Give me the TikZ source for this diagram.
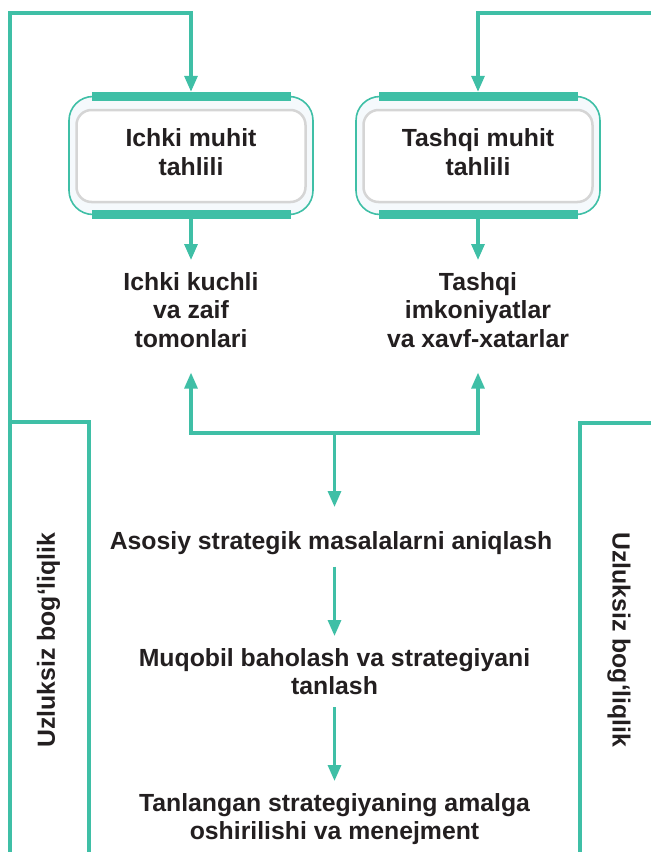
\documentclass[tikz,border=0pt]{standalone}
\usepackage{fontspec}
\setmainfont{Liberation Sans}
\usetikzlibrary{arrows.meta}

\definecolor{flowteal}{HTML}{3FBFA6}
\definecolor{ink}{HTML}{231F20}
\definecolor{boxfill}{HTML}{F5F9FC}
\definecolor{boxgray}{HTML}{D5D5D5}

\begin{document}
\begin{tikzpicture}[
  x=1pt, y=-1pt,
  flow/.style={draw=flowteal, line width=3.2pt},
  tip/.tip={Triangle[width=13pt,length=16pt]},
  arr/.style={flow, -tip},
  txt/.style={font=\fontsize{24.8}{28.5}\selectfont\bfseries, text=ink,
              align=center, inner xsep=0pt, inner ysep=12pt, anchor=north},
  sidetxt/.style={font=\fontsize{24.8}{28.5}\selectfont\bfseries, text=ink,
              inner sep=0pt},
  outerbox/.style={draw=flowteal, line width=1.6pt, fill=boxfill,
              rounded corners=24pt, minimum width=244pt, minimum height=118pt,
              inner sep=0pt},
  innerbox/.style={draw=boxgray, line width=2.5pt, fill=white,
              rounded corners=15pt, minimum width=229pt, minimum height=92pt,
              inner sep=0pt},
  bar/.style={fill=flowteal, minimum width=199pt, minimum height=9pt,
              inner sep=0pt},
]
\useasboundingbox (0,0) rectangle (651,852);

% analysis boxes
\node[outerbox] (lo) at (191,155.5) {};
\node[innerbox] (li) at (191,156) {};
\node[bar] (ltb) at (191,96.5) {};
\node[bar] (lbb) at (191,214.5) {};
\node[txt] (lt) at (191,116.5) {Ichki muhit\\tahlili};

\node[outerbox] (ro) at (478,155.5) {};
\node[innerbox] (ri) at (478,156) {};
\node[bar] (rtb) at (478,96.5) {};
\node[bar] (rbb) at (478,214.5) {};
\node[txt] (rt) at (478,116.5) {Tashqi muhit\\tahlili};

% results of the analysis
\node[txt] (ikt) at (191,260) {Ichki kuchli\\va zaif\\tomonlari};
\node[txt] (tkt) at (478,260) {Tashqi\\imkoniyatlar\\va xavf-xatarlar};

% strategy steps
\node[txt] (as) at (331,519) {Asosiy strategik masalalarni aniqlash};
\node[txt] (mq) at (334.5,636) {Muqobil baholash va strategiyani\\tanlash};
\node[txt] (tl) at (334.5,781) {Tanlangan strategiyaning amalga\\oshirilishi va menejment};

% feedback labels
\node[sidetxt, rotate=90] (sl) at (48.5,640) {Uzluksiz bog‘liqlik};
\node[sidetxt, rotate=-90] (sr) at (619,640) {Uzluksiz bog‘liqlik};

% feedback loops
\coordinate (lstart) at (10,852);
\coordinate (ltop) at (10,13);
\coordinate (rtop) at (651,13);
\draw[arr] (lstart) -- (ltop) -| (ltb.north);
\draw[arr] (rtop) -| (rtb.north);

\coordinate (lin1) at (10,422);
\coordinate (lin2) at (89,852);
\coordinate (rin1) at (651,423);
\coordinate (rin2) at (580,852);
\draw[flow] (lin1) -| (lin2);
\draw[flow] (rin1) -| (rin2);

% main flow
\draw[arr] (lbb.south) -- (ikt.north);
\draw[arr] (rbb.south) -- (tkt.north);

\coordinate (jc) at (334.5,433);
\draw[flow, tip-tip, shorten <=13pt, shorten >=13pt]
  (ikt.south) |- (jc) -| (tkt.south);
\draw[arr, shorten >=12pt] (jc) -- (jc |- as.north);
\draw[arr] (mq.north |- as.south) -- (mq.north);
\draw[arr] (mq.south) -- (tl.north);
\end{tikzpicture}
\end{document}
